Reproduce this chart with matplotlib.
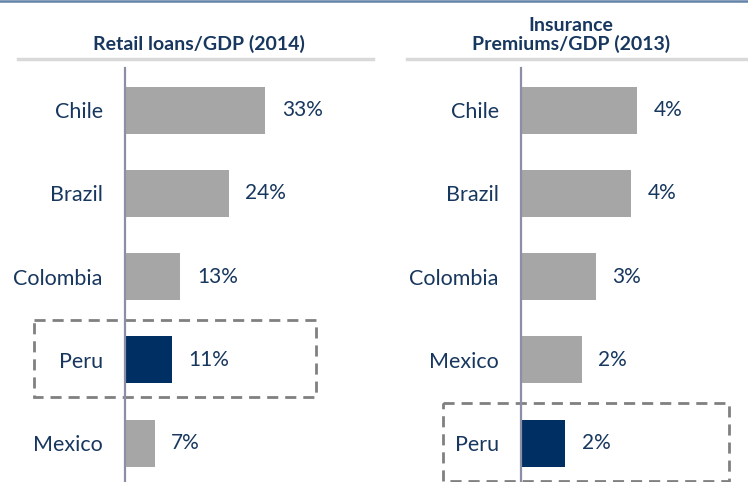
import matplotlib
matplotlib.use("Agg")
import matplotlib.pyplot as plt
from matplotlib.patches import Rectangle
from matplotlib.lines import Line2D
from matplotlib.transforms import blended_transform_factory

plt.rcParams['font.family'] = ['Lato', 'DejaVu Sans']

# data
loans_countries = ["Chile", "Brazil", "Colombia", "Peru", "Mexico"]
loans_values = [33, 24.4, 13, 11, 7]
loans_title = "Retail loans/GDP (2014)"

ins_countries = ["Chile", "Brazil", "Colombia", "Mexico", "Peru"]
ins_values = [4.2, 4.0, 2.7, 2.2, 1.6]
ins_title = "Insurance\nPremiums/GDP (2013)"

highlight = "Peru"

NAVY = "#17375E"
BAR_GRAY = "#A6A6A6"
BAR_NAVY = "#002F63"
W, H = 748, 482

fig = plt.figure(figsize=(W / 100, H / 100), dpi=100)


def draw_panel(x0, width, xmax, countries, values, title, title_x, box_x):
    ax = fig.add_axes([x0 / W, 0, width / W, 414 / H])
    ypos = list(range(len(countries)))
    colors = [BAR_NAVY if c == highlight else BAR_GRAY for c in countries]
    ax.barh(ypos, values, height=0.565, color=colors)
    for y, v in zip(ypos, values):
        ax.annotate(f"{v:.0f}%", (v, y), xytext=(12, 0), textcoords="offset points",
                    va="center", ha="left", fontsize=15, color=NAVY)
    ax.set_yticks(ypos, countries)
    ax.tick_params(axis="y", length=0, pad=16, labelsize=15.5, labelcolor=NAVY)
    ax.set_xticks([])
    ax.set_xlim(0, xmax)
    ax.set_ylim(4.468, -0.505)
    for s in ["top", "right", "bottom"]:
        ax.spines[s].set_visible(False)
    ax.spines["left"].set_color("#8B8FA6")
    ax.spines["left"].set_linewidth(1.6)

    # dashed box around the highlighted country
    k = countries.index(highlight)
    tr = blended_transform_factory(fig.transFigure, ax.transData)
    ax.add_patch(Rectangle((box_x[0] / W, k - 0.48), (box_x[1] - box_x[0]) / W, 0.93,
                           transform=tr, fill=False, edgecolor="#808080",
                           linewidth=2, linestyle=(0, (4, 2.5)), clip_on=False))

    fig.text(title_x / W, 1 - 53 / H, title, ha="center", va="bottom",
             fontsize=14, fontweight="bold", color=NAVY, linespacing=1.05)
    return ax


draw_panel(125, 255, 60.1, loans_countries, loans_values, loans_title, 199, (34, 316))
draw_panel(521, 227, 8.22, ins_countries, ins_values, ins_title, 571, (443, 729))

# separator lines under the titles and the top rule
fig.add_artist(Line2D([18 / W, 373 / W], [1 - 59 / H] * 2, color="#D9D9D9", linewidth=2.5))
fig.add_artist(Line2D([407 / W, 1], [1 - 59 / H] * 2, color="#D9D9D9", linewidth=2.5))
fig.add_artist(Line2D([0, 1], [1 - 1 / H] * 2, color="#6483A8", linewidth=1.8))

fig.savefig("out.png", dpi=100)
